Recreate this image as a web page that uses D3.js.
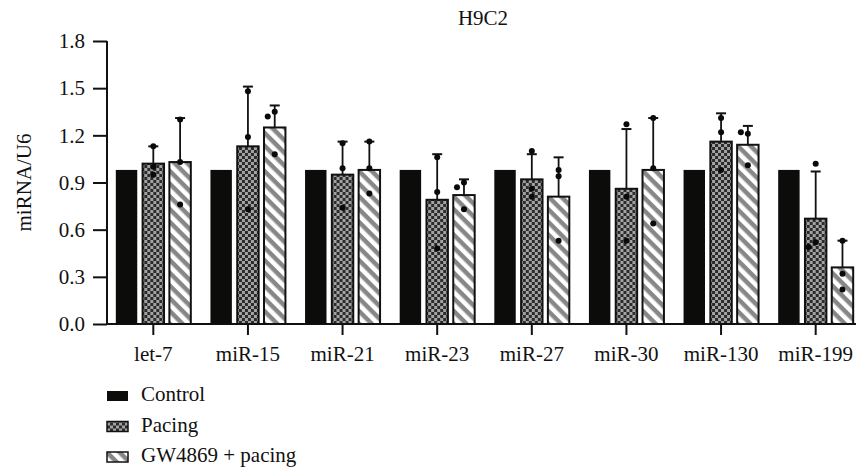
<!DOCTYPE html>
<html>
<head>
<meta charset="utf-8">
<script src="https://cdn.jsdelivr.net/npm/d3@7"></script>
<style>
  body { margin: 0; background: #fff; }
  text { font-family: "Liberation Serif", "Times New Roman", serif; fill: #111; }
</style>
</head>
<body>
<div id="chart"></div>
<script>
// data
const categories = ["let-7", "miR-15", "miR-21", "miR-23", "miR-27", "miR-30", "miR-130", "miR-199"];
const groups = ["Control", "Pacing", "GW4869 + pacing"];
const yTicks = [0, 0.3, 0.6, 0.9, 1.2, 1.5, 1.8];

const controlMean = [0.98, 0.98, 0.98, 0.98, 0.98, 0.98, 0.98, 0.98];
const pacingMean = [1.02, 1.13, 0.95, 0.79, 0.92, 0.86, 1.16, 0.67];
const pacingErrTop = [1.13, 1.51, 1.16, 1.08, 1.08, 1.24, 1.34, 0.97];
const pacingPoints = [
  [1.13, 1.0, 0.95], [1.48, 1.19, 0.73], [1.15, 0.99, 0.74], [1.06, 0.84, 0.48],
  [1.10, 0.86, 0.81], [1.27, 0.81, 0.53], [1.31, 1.22, 0.98], [1.02, 0.52, 0.49]
];
const gwMean = [1.03, 1.25, 0.98, 0.82, 0.81, 0.98, 1.14, 0.36];
const gwErrTop = [1.31, 1.39, 1.16, 0.92, 1.06, 1.31, 1.26, 0.53];
const gwPoints = [
  [1.30, 1.03, 0.76], [1.35, 1.32, 1.08], [1.16, 0.99, 0.83], [0.90, 0.87, 0.73],
  [0.98, 0.94, 0.53], [1.31, 0.99, 0.64], [1.21, 1.22, 1.01], [0.53, 0.32, 0.22]
];

const width = 861, height = 472;
const fontSize = "21px";

const svg = d3.select("#chart").append("svg")
    .attr("width", width)
    .attr("height", height);

// patterns for the two treated groups
const defs = svg.append("defs");
const checker = defs.append("pattern")
    .attr("id", "checker")
    .attr("patternUnits", "userSpaceOnUse")
    .attr("width", 6).attr("height", 6);
checker.append("rect").attr("width", 6).attr("height", 6).attr("fill", "#a3a3a3");
checker.append("rect").attr("width", 3).attr("height", 3).attr("fill", "#2b2b2b");
checker.append("rect").attr("x", 3).attr("y", 3).attr("width", 3).attr("height", 3).attr("fill", "#2b2b2b");

const stripes = defs.append("pattern")
    .attr("id", "stripes")
    .attr("patternUnits", "userSpaceOnUse")
    .attr("width", 9).attr("height", 9)
    .attr("patternTransform", "rotate(45)");
stripes.append("rect").attr("width", 9).attr("height", 9).attr("fill", "#fff");
stripes.append("rect").attr("width", 9).attr("height", 4.5).attr("fill", "#878787");

const fills = ["#0c0c0a", "url(#checker)", "url(#stripes)"];

const x = d3.scaleBand()
    .domain(categories)
    .range([106, 863]);

const y = d3.scaleLinear()
    .domain([0, 1.8])
    .range([324, 41]);

const offset = d3.scaleBand()
    .domain(groups)
    .range([-37.5, 37.5])
    .paddingInner(0.2);

// axes
const yAxis = svg.append("g")
    .attr("transform", "translate(107,0)")
    .call(d3.axisLeft(y).tickValues(yTicks).tickFormat(d3.format(".1f")).tickSize(14).tickPadding(8));
yAxis.select(".domain").remove();
yAxis.append("line")
    .attr("x1", 0).attr("x2", 0)
    .attr("y1", y(1.8)).attr("y2", y(0) + 1)
    .attr("stroke", "#111").attr("stroke-width", 2);

const xAxis = svg.append("g")
    .attr("transform", "translate(0,324)")
    .call(d3.axisBottom(x).tickSize(11).tickPadding(11));
xAxis.select(".domain").remove();
xAxis.append("line")
    .attr("x1", 106).attr("x2", 856)
    .attr("stroke", "#111").attr("stroke-width", 2);

svg.selectAll(".tick line").attr("stroke", "#111").attr("stroke-width", 2);
svg.selectAll(".tick text")
    .attr("font-family", null)
    .style("font-size", fontSize)
    .style("font-family", "'Liberation Serif', serif")
    .attr("fill", "#111");
svg.selectAll(".tick").each(function() { d3.select(this.parentNode).attr("font-family", null).attr("font-size", null); });

// bars
const rows = categories.map((c, i) => ({
  cat: c,
  values: [
    {g: groups[0], mean: controlMean[i]},
    {g: groups[1], mean: pacingMean[i], err: pacingErrTop[i], pts: pacingPoints[i]},
    {g: groups[2], mean: gwMean[i], err: gwErrTop[i], pts: gwPoints[i]}
  ]
}));

const cat = svg.append("g").selectAll("g")
    .data(rows)
    .enter().append("g")
    .attr("transform", d => "translate(" + (x(d.cat) + x.bandwidth() / 2) + ",0)");

const bar = cat.selectAll("g")
    .data(d => d.values)
    .enter().append("g")
    .attr("transform", d => "translate(" + (offset(d.g) + offset.bandwidth() / 2) + ",0)");

const bw = offset.bandwidth();

// error bars (upper only), drawn under the bar
bar.filter(d => d.err != null).append("line")
    .attr("x1", 0).attr("x2", 0)
    .attr("y1", d => y(d.mean))
    .attr("y2", d => y(d.err))
    .attr("stroke", "#111").attr("stroke-width", 1.8);
bar.filter(d => d.err != null).append("line")
    .attr("x1", -5).attr("x2", 5)
    .attr("y1", d => y(d.err))
    .attr("y2", d => y(d.err))
    .attr("stroke", "#111").attr("stroke-width", 2);

bar.append("rect")
    .attr("x", -bw / 2)
    .attr("width", bw)
    .attr("y", d => y(d.mean))
    .attr("height", d => y(0) - y(d.mean))
    .attr("fill", (d, i) => fills[i])
    .attr("stroke", (d, i) => i === 0 ? "none" : "#111")
    .attr("stroke-width", 2);

// individual points, nudged sideways when they overlap
function placeDots(pts) {
  let placed = [];
  return pts.map(v => {
    let dx = 0;
    if (placed.some(p => Math.abs(p - v) < 0.032)) dx = -7;
    placed.push(v);
    return {v: v, dx: dx};
  });
}

bar.filter(d => d.pts != null).selectAll("circle")
    .data(d => placeDots(d.pts))
    .enter().append("circle")
    .attr("cx", d => d.dx)
    .attr("cy", d => y(d.v))
    .attr("r", 3)
    .attr("fill", "#0a0a0a");

// title and y label
svg.append("text")
    .attr("x", 483).attr("y", 25)
    .attr("text-anchor", "middle")
    .style("font-size", fontSize)
    .text("H9C2");

svg.append("text")
    .attr("transform", "translate(31," + (y(0.9)) + ") rotate(-90)")
    .attr("text-anchor", "middle")
    .style("font-size", fontSize)
    .text("miRNA/U6");

// legend
const legend = svg.append("g")
    .selectAll("g")
    .data(groups)
    .enter().append("g")
    .attr("transform", (d, i) => "translate(107," + (401 + i * 30.5) + ")");

legend.append("rect")
    .attr("x", 0).attr("y", -10)
    .attr("width", 21).attr("height", 10)
    .attr("fill", (d, i) => fills[i])
    .attr("stroke", (d, i) => i === 0 ? "none" : "#111")
    .attr("stroke-width", 1.5);

legend.append("text")
    .attr("x", 34).attr("y", 0)
    .style("font-size", fontSize)
    .text(d => d);
</script>
</body>
</html>
